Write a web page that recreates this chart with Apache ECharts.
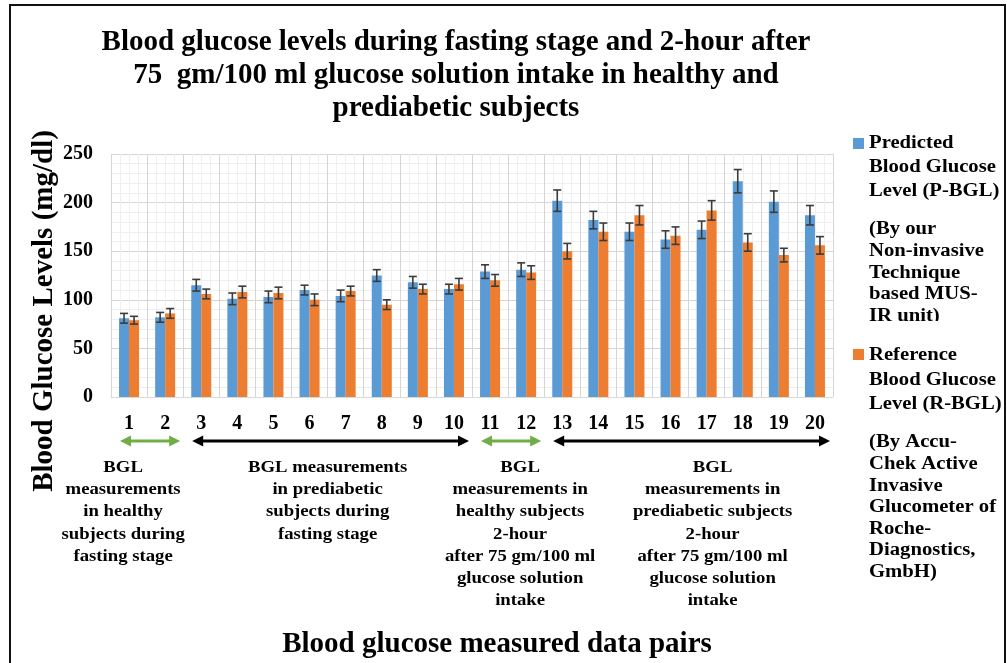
<!DOCTYPE html>
<html>
<head>
<meta charset="utf-8">
<script src="https://cdn.jsdelivr.net/npm/echarts@6/dist/echarts.min.js"></script>
<style>
html,body{margin:0;padding:0;background:#fff;}
#chart{width:1007px;height:663px;}
</style>
</head>
<body>
<div id="chart"></div>
<script>
const categories = ['1','2','3','4','5','6','7','8','9','10','11','12','13','14','15','16','17','18','19','20'];
const predicted = [81,82,115,101,103,110,104,125,118,111,129,131,202,182,170,162,172,222,201,187];
const reference = [79,86,106,108,107,100,109,95,111,116,120,128,150,170,187,166,192,159,146,156];
const predictedErr = [5,5,6,6,6,5,6,6,6,5,7,7,11,9,9,9,9,12,11,10];
const referenceErr = [4,5,5,6,6,6,5,5,5,6,6,7,8,9,10,9,10,9,7,9];
const yTicks = [0,50,100,150,200,250];
const seriesNames = ['Predicted Blood Glucose Level (P-BGL)','Reference Blood Glucose Level (R-BGL)'];
const groups = [
  {from:0, to:1, color:'#70AD47', text:'BGL\nmeasurements\nin healthy\nsubjects during\nfasting stage'},
  {from:2, to:9, color:'#000000', text:'BGL measurements\nin prediabetic\nsubjects during\nfasting stage'},
  {from:10, to:11, color:'#70AD47', text:'BGL\nmeasurements in\nhealthy subjects\n2-hour\nafter 75 gm/100 ml\nglucose solution\nintake'},
  {from:12, to:19, color:'#000000', text:'BGL\nmeasurements in\nprediabetic subjects\n2-hour\nafter 75 gm/100 ml\nglucose solution\nintake'}
];

const FONT = '"Liberation Serif","Times New Roman",serif';
const BLUE = '#5B9BD5', ORANGE = '#ED7D31', ERR = '#3b3b3b';
const BAR_W = 10;

function errSeries(values, errs, offset){
  return {
    type:'custom',
    xAxisIndex:0, yAxisIndex:0,
    z:5,
    silent:true,
    data: values.map((v,i)=>[i, v, errs[i]]),
    encode:{x:0,y:1},
    renderItem:function(params, api){
      const i = api.value(0), v = api.value(1), e = api.value(2);
      const top = api.coord([i, v+e]);
      const bot = api.coord([i, v-e]);
      const x = top[0] + offset;
      const cap = 4;
      const st = {stroke:ERR, lineWidth:1.6};
      return {type:'group', children:[
        {type:'line', shape:{x1:x,y1:top[1],x2:x,y2:bot[1]}, style:st},
        {type:'line', shape:{x1:x-cap,y1:top[1],x2:x+cap,y2:top[1]}, style:st},
        {type:'line', shape:{x1:x-cap,y1:bot[1],x2:x+cap,y2:bot[1]}, style:st}
      ]};
    }
  };
}

const chart = echarts.init(document.getElementById('chart'));
const option = {
  backgroundColor:'#ffffff',
  animation:false,
  title:{
    text:'Blood glucose levels during fasting stage and 2-hour after\n75  gm/100 ml glucose solution intake in healthy and\nprediabetic subjects',
    left:451, top:21, textAlign:'center',
    textStyle:{fontFamily:FONT, fontSize:29, fontWeight:'bold', color:'#000', lineHeight:33}
  },
  grid:{left:111, right:174, top:154, bottom:266, containLabel:false},
  xAxis:[
    {type:'category', data:categories,
     axisLine:{show:true, lineStyle:{color:'#d9d9d9'}},
     axisTick:{show:false},
     axisLabel:{fontFamily:FONT, fontSize:20, fontWeight:'bold', color:'#000', margin:17},
     splitLine:{show:false}},
    {type:'value', min:0, max:20, interval:1, position:'bottom',
     axisLine:{show:false}, axisTick:{show:false}, axisLabel:{show:false},
     splitLine:{show:true, lineStyle:{color:'#d6d6d6', width:1}},
     minorTick:{show:false, splitNumber:4},
     minorSplitLine:{show:true, lineStyle:{color:'#efefef', width:1}}}
  ],
  yAxis:{type:'value', min:yTicks[0], max:yTicks[yTicks.length-1], interval:50,
    axisLine:{show:false}, axisTick:{show:false},
    axisLabel:{fontFamily:FONT, fontSize:20, fontWeight:'bold', color:'#000', margin:18},
    splitLine:{show:true, lineStyle:{color:'#d6d6d6'}},
    minorTick:{show:false, splitNumber:5},
    minorSplitLine:{show:true, lineStyle:{color:'#efefef'}}},
  series:[
    {name:seriesNames[0], type:'bar', data:predicted, barWidth:BAR_W, barGap:'0%', itemStyle:{color:BLUE}},
    {name:seriesNames[1], type:'bar', data:reference, barWidth:BAR_W, barGap:'0%', itemStyle:{color:ORANGE}},
    errSeries(predicted, predictedErr, -BAR_W/2),
    errSeries(reference, referenceErr, BAR_W/2)
  ]
};
chart.setOption(option);

// Annotation graphics placed with the axis scale
const px = i => chart.convertToPixel({xAxisIndex:0}, i);
const band = px(1) - px(0);
const gfx = [];
// frame
gfx.push({type:'rect', shape:{x:10,y:5,width:995,height:665}, style:{fill:null, stroke:'#111', lineWidth:2}, z:0});
// y axis title
gfx.push({type:'text', x:45, y:311, rotation:Math.PI/2,
  style:{text:'Blood Glucose Levels (mg/dl)', fontFamily:FONT, fontSize:29, fontWeight:'bold', fill:'#000', align:'center', verticalAlign:'middle'}});
// x axis title
gfx.push({type:'text', x:497, y:645,
  style:{text:'Blood glucose measured data pairs', fontFamily:FONT, fontSize:29, fontWeight:'bold', fill:'#000', align:'center', verticalAlign:'middle'}});

const arrowY = 441;
const textShift = [-24, 0, 12, 24];
groups.forEach((g, k) => {
  const x1 = px(g.from) - band/2 + 9;
  const x2 = px(g.to) + band/2 - 3;
  const head = 11, hw = 5.5;
  gfx.push({type:'line', shape:{x1:x1+head-1, y1:arrowY, x2:x2-head+1, y2:arrowY}, style:{stroke:g.color, lineWidth:3}});
  gfx.push({type:'polygon', shape:{points:[[x1,arrowY],[x1+head,arrowY-hw],[x1+head,arrowY+hw]]}, style:{fill:g.color}});
  gfx.push({type:'polygon', shape:{points:[[x2,arrowY],[x2-head,arrowY-hw],[x2-head,arrowY+hw]]}, style:{fill:g.color}});
  const cx = (px(g.from) + px(g.to))/2 + textShift[k];
  gfx.push({type:'text', x:cx, y:456, scaleX:1.07,
    style:{text:g.text, fontFamily:FONT, fontSize:17.5, fontWeight:'bold', fill:'#000', align:'center', verticalAlign:'top', lineHeight:22.3}});
});

// legend
const LX = 869;
gfx.push({type:'rect', shape:{x:853,y:138,width:11,height:11}, style:{fill:BLUE}});
gfx.push({type:'text', x:LX, y:131, scaleX:1.06, style:{text:'Predicted\nBlood Glucose\nLevel (P-BGL)', fontFamily:FONT, fontSize:19.5, fontWeight:'bold', fill:'#000', lineHeight:24, verticalAlign:'top'}});
gfx.push({type:'text', x:LX, y:219, scaleX:1.15, style:{text:'(By our\nNon-invasive\nTechnique\nbased MUS-\nIR unit)', fontFamily:FONT, fontSize:18, fontWeight:'bold', fill:'#000', lineHeight:21.6, verticalAlign:'top'}});
gfx.push({type:'rect', shape:{x:845,y:321,width:155,height:14}, style:{fill:'#fff'}});
gfx.push({type:'rect', shape:{x:853,y:349,width:11,height:11}, style:{fill:ORANGE}});
gfx.push({type:'text', x:LX, y:343, scaleX:1.06, style:{text:'Reference\nBlood Glucose\nLevel (R-BGL)', fontFamily:FONT, fontSize:19.5, fontWeight:'bold', fill:'#000', lineHeight:24.5, verticalAlign:'top'}});
gfx.push({type:'text', x:LX, y:432, scaleX:1.15, style:{text:'(By Accu-\nChek Active\nInvasive\nGlucometer of\nRoche-\nDiagnostics,\nGmbH)', fontFamily:FONT, fontSize:18, fontWeight:'bold', fill:'#000', lineHeight:21.6, verticalAlign:'top'}});

chart.setOption({graphic:gfx});
</script>
</body>
</html>
